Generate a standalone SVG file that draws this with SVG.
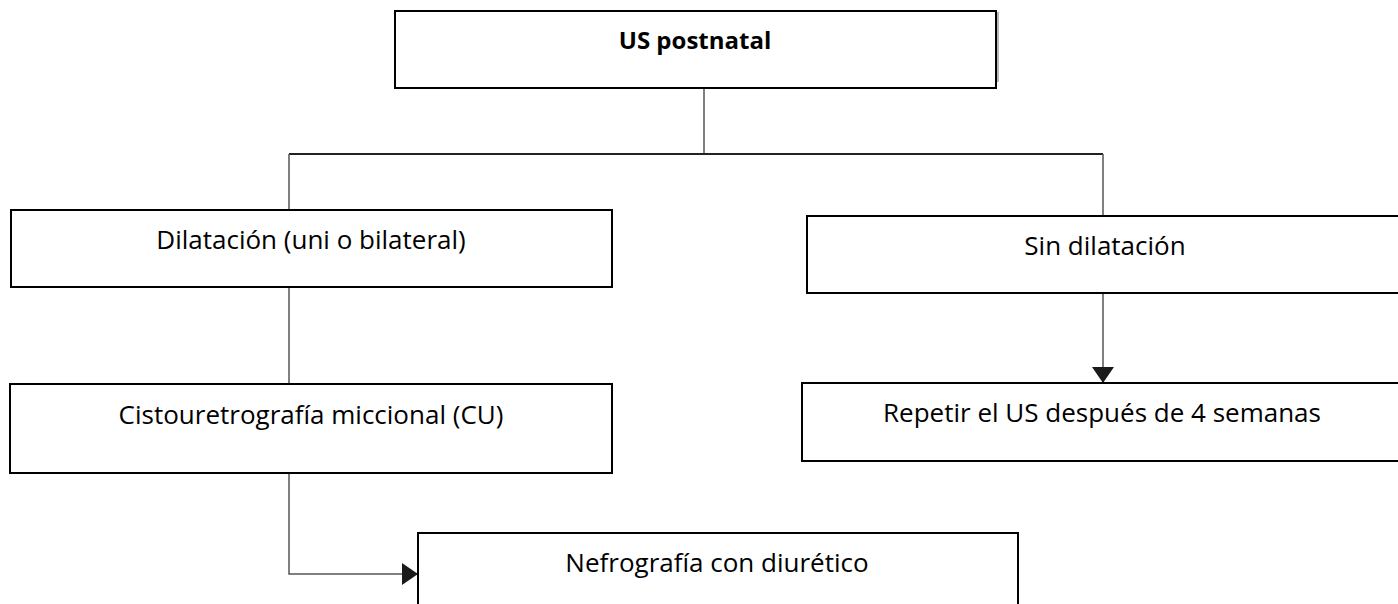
<svg xmlns="http://www.w3.org/2000/svg" width="1398" height="604" viewBox="0 0 1398 604">
<style>
.box{fill:#fff;stroke:#000;stroke-width:2}
.t{font-family:"Open Sans","Liberation Sans",sans-serif;font-size:26px;fill:#000;text-anchor:middle}
.b{font-weight:bold;font-size:24px}
.c{fill:none;stroke:#555;stroke-width:1.5}
.bus{fill:none;stroke:#222;stroke-width:2.2}
</style>
<defs>
<marker id="arr" markerUnits="userSpaceOnUse" markerWidth="20" markerHeight="24" refX="16" refY="11" orient="auto">
<path d="M0,0 L16,11 L0,22 Z" fill="#1a1a1a"/>
</marker>
</defs>
<rect width="1398" height="604" fill="#fff"/>
<g id="connectors">
<path class="c" d="M704,88 V154"/>
<path class="bus" d="M289,154 H1103"/>
<path class="c" d="M289,154 V210"/>
<path class="c" d="M1103,154 V216"/>
<path class="c" d="M289,287 V384"/>
<path class="c" d="M1103,293 V383" marker-end="url(#arr)"/>
<path class="c" d="M289,473 V574 H418" marker-end="url(#arr)"/>
</g>
<g id="us-postnatal">
<rect class="box" x="395" y="11" width="601" height="77"/>
<path d="M998,12 V82" stroke="#888" stroke-width="1.2"/>
<text class="t b" x="695" y="49">US postnatal</text>
</g>
<g id="dilatacion">
<rect class="box" x="11" y="210" width="601" height="77"/>
<text class="t" x="311" y="249">Dilatación (uni o bilateral)</text>
</g>
<g id="sin-dilatacion">
<rect class="box" x="807" y="216" width="600" height="77"/>
<text class="t" x="1105" y="255">Sin dilatación</text>
</g>
<g id="cistouretrografia">
<rect class="box" x="10" y="384" width="602" height="89"/>
<text class="t" x="311" y="424">Cistouretrografía miccional (CU)</text>
</g>
<g id="repetir-us">
<rect class="box" x="802" y="383" width="605" height="78"/>
<text class="t" x="1102" y="422">Repetir el US después de 4 semanas</text>
</g>
<g id="nefrografia">
<rect class="box" x="418" y="533" width="600" height="90"/>
<text class="t" x="717" y="572">Nefrografía con diurético</text>
</g>
</svg>
